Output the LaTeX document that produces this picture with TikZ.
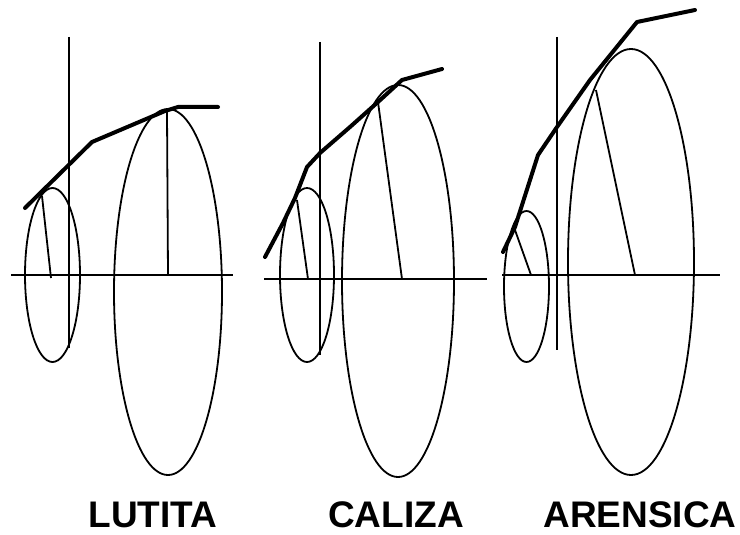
\documentclass[tikz,border=0pt]{standalone}
\usepackage{fontspec}
\setmainfont{Liberation Sans}
\usetikzlibrary{arrows.meta}
\tikzset{
  axisline/.style={line width=1.8pt},
  circline/.style={line width=1.8pt},
  radline/.style={line width=1.8pt},
  envline/.style={line width=4pt,line join=round,line cap=round},
  rocklabel/.style={anchor=base,font=\bfseries\fontsize{37}{40}\selectfont,inner sep=0pt}
}

\begin{document}
\begin{tikzpicture}[x=1pt,y=-1pt]
        \useasboundingbox (0,0) rectangle (740,535);
        % LUTITA
        \draw[axisline] (69,37) -- (69,348);
        \draw[axisline] (11,275) -- (233,275);
        \draw[circline] (52.5,275) ellipse (27.5 and 87);
        \draw[circline] (168,292) ellipse (54 and 183);
        \draw[radline] (51,278) -- (42,196);
        \draw[radline] (168,275) -- (167,112);
        \draw[envline] (25,208) -- (92,142) -- (165,111) -- (178,107) -- (218,107);
        \node[rocklabel] (lutita) at (153,527) {LUTITA};
        % CALIZA
        \draw[axisline] (320,42) -- (320,355);
        \draw[axisline] (264,279) -- (487,279);
        \draw[circline] (307,275) ellipse (27 and 87);
        \draw[circline] (398,281) ellipse (56 and 196);
        \draw[radline] (308,279) -- (297,200);
        \draw[radline] (402,279) -- (378,102);
        \draw[envline] (265,257) -- (283,223) -- (295,198) -- (307,167) -- (320,153)
              -- (350,127) -- (378,102) -- (402,80) -- (442,69);
        \node[rocklabel] (caliza) at (396,527) {CALIZA};
        % ARENSICA
        \draw[axisline] (557,37) -- (557,350);
        \draw[axisline] (502,275) -- (720,275);
        \draw[circline] (526.5,286.5) ellipse (22.5 and 75.5);
        \draw[circline] (631,262) ellipse (63 and 213);
        \draw[radline] (531,275) -- (515,230);
        \draw[radline] (635,275) -- (596,90);
        \draw[envline] (503,252) -- (515,227) -- (538,155) -- (557,127) -- (590,80)
              -- (637,22) -- (695,10);
        \node[rocklabel] (arensica) at (640,527) {ARENSICA};
      \end{tikzpicture}
\end{document}
